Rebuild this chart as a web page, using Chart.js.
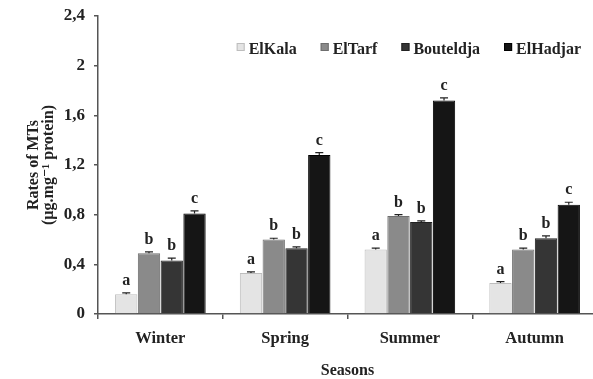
<!DOCTYPE html>
<html>
<head>
<meta charset="utf-8">
<script src="https://cdn.jsdelivr.net/npm/chart.js@4/dist/chart.umd.min.js"></script>
<style>
  html, body { margin: 0; padding: 0; background: #fff; overflow: hidden; }
  #wrap { position: absolute; left: 0; top: 0; width: 600px; height: 379px; }
</style>
</head>
<body>
<div id="wrap"><canvas id="barChart"></canvas></div>
<script>
const seasons = ['Winter', 'Spring', 'Summer', 'Autumn'];
const elKala = [0.16, 0.33, 0.52, 0.25];
const elTarf = [0.49, 0.60, 0.79, 0.52];
const bouteldja = [0.43, 0.53, 0.74, 0.61];
const elHadjar = [0.81, 1.28, 1.72, 0.88];
const elKalaErr = [0.01, 0.01, 0.01, 0.01];
const elTarfErr = [0.01, 0.01, 0.01, 0.01];
const bouteldjaErr = [0.02, 0.01, 0.01, 0.02];
const elHadjarErr = [0.02, 0.02, 0.02, 0.02];
const letters = ['a', 'b', 'b', 'c'];
const yTicks = [0, 0.4, 0.8, 1.2, 1.6, 2, 2.4];

const serif = '"Liberation Serif", "DejaVu Serif", serif';

// error bars + significance letters on top of each bar
const errorLetters = {
    id: 'errorLetters',
    afterDatasetsDraw(chart) {
        const ctx = chart.ctx;
        const y = chart.scales.y;
        chart.data.datasets.forEach((ds, i) => {
            const meta = chart.getDatasetMeta(i);
            meta.data.forEach((bar, j) => {
                const top = y.getPixelForValue(ds.data[j] + ds.err[j]);
                const bot = y.getPixelForValue(ds.data[j]);
                ctx.save();
                ctx.strokeStyle = '#222';
                ctx.lineWidth = 1.2;
                ctx.beginPath();
                ctx.moveTo(bar.x, bot);
                ctx.lineTo(bar.x, top);
                ctx.moveTo(bar.x - 4, top);
                ctx.lineTo(bar.x + 4, top);
                ctx.stroke();
                ctx.fillStyle = '#222';
                ctx.font = 'bold 16px ' + serif;
                ctx.textAlign = 'center';
                ctx.textBaseline = 'bottom';
                ctx.fillText(letters[i], bar.x, top - 4);
                ctx.restore();
            });
        });
    }
};

// horizontal legend sitting inside the plot, top right
const insideLegend = {
    id: 'insideLegend',
    afterDraw(chart) {
        const ctx = chart.ctx;
        const area = chart.chartArea;
        const gap = 24;
        ctx.save();
        ctx.font = 'bold 16px ' + serif;
        const items = chart.data.datasets.map(ds => ({
            text: ds.label,
            color: ds.backgroundColor,
            border: ds.borderColor,
            w: 8 + 4 + ctx.measureText(ds.label).width
        }));
        let x = area.right - 16 - items.reduce((s, it) => s + it.w, 0) - gap * (items.length - 1);
        const boxTop = area.top + 27;
        items.forEach(it => {
            ctx.fillStyle = it.color;
            ctx.fillRect(x, boxTop, 8, 8);
            ctx.strokeStyle = it.border;
            ctx.lineWidth = 1;
            ctx.strokeRect(x + 0.5, boxTop + 0.5, 7, 7);
            ctx.fillStyle = '#222';
            ctx.textBaseline = 'alphabetic';
            ctx.fillText(it.text, x + 12, boxTop + 11);
            x += it.w + gap;
        });
        ctx.restore();
    }
};

const ctx = document.getElementById('barChart').getContext('2d');
const data = {
    labels: seasons,
    datasets: [
        {label: 'ElKala', data: elKala, err: elKalaErr, backgroundColor: '#e4e4e4', borderColor: '#bdbdbd'},
        {label: 'ElTarf', data: elTarf, err: elTarfErr, backgroundColor: '#8a8a8a', borderColor: '#6e6e6e'},
        {label: 'Bouteldja', data: bouteldja, err: bouteldjaErr, backgroundColor: '#353535', borderColor: '#222'},
        {label: 'ElHadjar', data: elHadjar, err: elHadjarErr, backgroundColor: '#151515', borderColor: '#000'}
    ]
};
data.datasets.forEach(ds => {
    ds.borderWidth = 1;
    ds.categoryPercentage = 0.73;
    ds.barPercentage = 0.98;
});

const config = {
    type: 'bar',
    data: data,
    plugins: [errorLetters, insideLegend],
    options: {
        responsive: true,
        maintainAspectRatio: false,
        animation: false,
        layout: {padding: {top: 16, right: 3, left: 0, bottom: 0}},
        plugins: {
            legend: {display: false},
            tooltip: {enabled: false}
        },
        scales: {
            x: {
                grid: {display: true, drawOnChartArea: false, offset: true, tickLength: 5, color: '#555', lineWidth: 1.5},
                border: {color: '#555', width: 1.5},
                ticks: {padding: 10, color: '#222', font: {family: serif, size: 16.5, weight: 'bold'}},
                title: {display: true, text: 'Seasons', color: '#222', padding: {top: 4, bottom: 0}, font: {family: serif, size: 16, weight: 'bold', lineHeight: 1}},
                afterFit: s => { s.height = 65; }
            },
            y: {
                min: 0,
                max: 2.4,
                afterBuildTicks: s => { s.ticks = yTicks.map(v => ({value: v})); },
                grid: {display: true, drawOnChartArea: false, tickLength: 4, color: '#555', lineWidth: 1.5},
                border: {color: '#555', width: 1.5},
                ticks: {
                    padding: 9,
                    color: '#222',
                    font: {family: serif, size: 17, weight: 'bold'},
                    callback: v => String(v).replace('.', ',')
                },
                title: {
                    display: true,
                    text: ['Rates of MTs', '(\u00b5g.mg\u207b\u00b9 protein)'],
                    color: '#222',
                    padding: {top: 27, bottom: 0},
                    font: {family: serif, size: 16, weight: 'bold', lineHeight: 0.9}
                },
                afterFit: s => {
                    s.width = 98;
                    s.paddingTop = 0;
                    s.paddingBottom = 0;
                }
            }
        }
    }
};
new Chart(ctx, config);
</script>
</body>
</html>
